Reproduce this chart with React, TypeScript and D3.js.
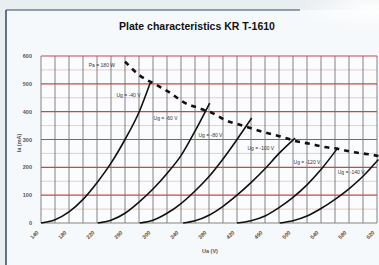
import React, { useEffect, useRef } from "react";
import * as d3 from "d3";

// plate voltage ticks (V) and plate current ticks (mA)
const xTicks = [140, 180, 220, 260, 300, 340, 380, 420, 460, 500, 540, 580, 620];
const yTicks = [0, 100, 200, 300, 400, 500, 600];

// characteristic curves, [Ua, Ia]
const curveNames = ["Ug = -40 V", "Ug = -60 V", "Ug = -80 V", "Ug = -100 V", "Ug = -120 V", "Ug = -140 V"];
const ug40 = [[140, 0], [160, 12], [180, 40], [200, 85], [220, 145], [240, 215], [260, 300], [280, 398], [296, 503]];
const ug60 = [[221, 0], [240, 10], [260, 35], [280, 75], [300, 122], [320, 178], [340, 242], [360, 330], [381, 431]];
const ug80 = [[281, 0], [300, 10], [320, 35], [340, 70], [360, 115], [380, 167], [400, 230], [420, 300], [441, 377]];
const ug100 = [[343, 0], [360, 8], [380, 28], [400, 60], [420, 100], [440, 145], [460, 195], [480, 250], [503, 305]];
const ug120 = [[420, 0], [440, 8], [460, 25], [480, 55], [500, 92], [520, 137], [540, 192], [564, 270]];
const ug140 = [[481, 0], [500, 8], [520, 25], [540, 52], [560, 85], [580, 123], [600, 168], [622, 228]];
const curves = [ug40, ug60, ug80, ug100, ug120, ug140];

// max plate dissipation line
const paLine = [[260, 580], [280, 532], [305, 496], [325, 467], [343, 435], [365, 413], [385, 395], [403, 370],
  [425, 352], [443, 338], [463, 323], [485, 309], [503, 295], [525, 284], [545, 273], [565, 266], [585, 255],
  [605, 248], [622, 241]];

// label anchor points [Ua, Ia]
const labelPos = [[265, 453], [318, 370], [382, 310], [454, 262], [520, 212], [583, 176]];
const paLabel = "Pa = 180 W";
const paLabelPos = [227, 560];

const App = () => {
  const svgRef = useRef<SVGSVGElement>(null);

  useEffect(() => {
    const svg = d3.select(svgRef.current);
    svg.selectAll("*").remove();

    const width = 379;
    const height = 265;
    const font = "'Liberation Sans', Arial, sans-serif";

    const x = d3.scaleLinear().domain([140, 620]).range([41, 377]);
    const y = d3.scaleLinear().domain([0, 600]).range([223, 56]);

    // page background + frame of the photographed sheet
    svg.append("rect").attr("width", width).attr("height", height).attr("fill", "#e9eef1");
    svg.append("rect").attr("x", 6).attr("y", 10).attr("width", width).attr("height", height)
      .attr("fill", "#f6f9fb");
    svg.append("line").attr("x1", 6).attr("x2", 6).attr("y1", 10).attr("y2", height)
      .attr("stroke", "#2f4a66").attr("stroke-width", 1.5);
    svg.append("line").attr("x1", 6).attr("x2", 300).attr("y1", 10).attr("y2", 10)
      .attr("stroke", "#2f4a66").attr("stroke-width", 1.2);

    // glare at the top right
    const defs = svg.append("defs");
    const glare = defs.append("radialGradient").attr("id", "glare");
    glare.append("stop").attr("offset", "0%").attr("stop-color", "#ffffff").attr("stop-opacity", 0.95);
    glare.append("stop").attr("offset", "100%").attr("stop-color", "#ffffff").attr("stop-opacity", 0);
    svg.append("ellipse").attr("cx", 370).attr("cy", 8).attr("rx", 70).attr("ry", 22).attr("fill", "url(#glare)");

    // title
    svg.append("text").attr("x", 197).attr("y", 30).attr("text-anchor", "middle")
      .attr("font-family", font).attr("font-size", 10.5).attr("font-weight", "bold").attr("fill", "#111")
      .text("Plate characteristics KR T-1610");

    // plot background
    svg.append("rect").attr("x", x(140)).attr("y", y(600)).attr("width", x(620) - x(140))
      .attr("height", y(0) - y(600)).attr("fill", "#fbfcfd");

    const grid = svg.append("g");
    // light red half lines
    grid.selectAll("line.half").data(d3.range(50, 600, 100)).join("line")
      .attr("x1", x(140)).attr("x2", x(620)).attr("y1", (d) => y(d)).attr("y2", (d) => y(d))
      .attr("stroke", "#eebcbc").attr("stroke-width", 0.8);
    // vertical grid every 20 V
    grid.selectAll("line.v").data(d3.range(140, 621, 20)).join("line")
      .attr("x1", (d) => x(d)).attr("x2", (d) => x(d)).attr("y1", y(600)).attr("y2", y(0))
      .attr("stroke", "#666").attr("stroke-width", 0.8);
    // red major lines
    grid.selectAll("line.h").data(yTicks.filter((d) => d > 0)).join("line")
      .attr("x1", x(140)).attr("x2", x(620)).attr("y1", (d) => y(d)).attr("y2", (d) => y(d))
      .attr("stroke", "#c84848").attr("stroke-width", 1.1);
    grid.append("line").attr("x1", x(140)).attr("x2", x(620)).attr("y1", y(0)).attr("y2", y(0))
      .attr("stroke", "#777").attr("stroke-width", 0.9);

    // y tick labels
    svg.append("g").selectAll("text").data(yTicks).join("text")
      .attr("x", 32).attr("y", (d) => y(d) + 2)
      .attr("text-anchor", "end").attr("font-family", font).attr("font-size", 5.5)
      .attr("font-weight", "bold").attr("fill", "#555").text((d) => d);

    svg.append("text").attr("transform", "translate(21,143) rotate(-90)").attr("text-anchor", "middle")
      .attr("font-family", font).attr("font-size", 5.5).attr("font-weight", "bold").attr("fill", "#555")
      .text("Ia (mA)");

    // x tick labels, rotated
    svg.append("g").selectAll("text").data(xTicks).join("text")
      .attr("transform", (d) => `translate(${x(d) - 2},${233}) rotate(-45)`)
      .attr("text-anchor", "end").attr("font-family", font).attr("font-size", 5.5)
      .attr("font-weight", "bold").attr("fill", "#555").text((d) => d);

    svg.append("text").attr("x", 210).attr("y", 253).attr("text-anchor", "middle")
      .attr("font-family", font).attr("font-size", 5.5).attr("font-weight", "bold").attr("fill", "#555")
      .text("Ua (V)");

    // curves
    const line = d3.line<number[]>().x((d) => x(d[0])).y((d) => y(d[1])).curve(d3.curveMonotoneX);

    svg.append("g").selectAll("path").data(curves).join("path")
      .attr("d", (d) => line(d))
      .attr("fill", "none").attr("stroke", "#111").attr("stroke-width", 1.6);

    svg.append("path").attr("d", line(paLine)).attr("fill", "none")
      .attr("stroke", "#111").attr("stroke-width", 2.6).attr("stroke-dasharray", "5,5");

    // labels
    svg.append("g").selectAll("text").data(curveNames).join("text")
      .attr("x", (d, i) => x(labelPos[i][0])).attr("y", (d, i) => y(labelPos[i][1]))
      .attr("text-anchor", "middle").attr("font-family", font).attr("font-size", 5)
      .attr("fill", "#333").text((d) => d);

    svg.append("text").attr("x", x(paLabelPos[0])).attr("y", y(paLabelPos[1]))
      .attr("text-anchor", "middle").attr("font-family", font).attr("font-size", 5)
      .attr("fill", "#333").text(paLabel);
  }, []);

  return (
    <svg ref={svgRef} width={379} height={265}
      style={{ position: "absolute", left: 0, top: 0, display: "block" }} />
  );
};

export default App;
